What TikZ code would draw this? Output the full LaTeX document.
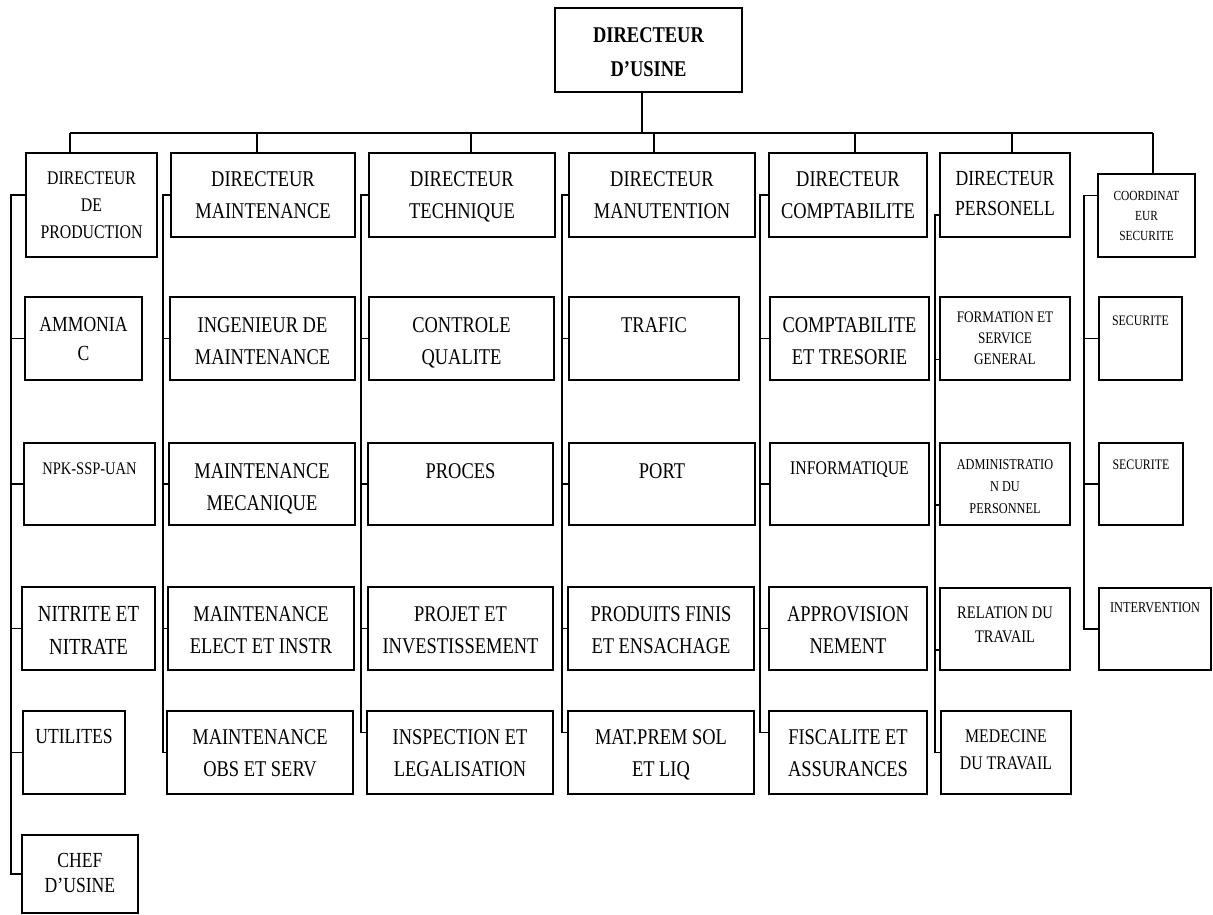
\documentclass[tikz,border=0pt]{standalone}
\usepackage{fontspec}
\setmainfont{Liberation Serif}[FakeStretch=0.82]
\newcommand{\orgbox}[7]{%
  \node[box, minimum width={(#4-#2)*1pt}, minimum height={(#5-#3)*1pt}] (#1) at ({(#2+#4)/2},{(#3+#5)/2}) {};
  \node[lbl, #6] (#1t) at ([yshift=-19pt]#1.north) {#7};
}
\begin{document}
\begin{tikzpicture}[x=1pt,y=-1pt,
  box/.style={draw, line width=1.6pt, rectangle, inner sep=0pt},
  lbl/.style={anchor=north, inner sep=0pt, align=center, font=\fontsize{22.5}{32}\selectfont},
  con/.style={line width=1.3pt},
  topf/.style={font=\bfseries\fontsize{22.5}{34}\selectfont},
  prodf/.style={font=\fontsize{19.3}{27}\selectfont},
  ammf/.style={font=\fontsize{21.5}{29}\selectfont},
  nitf/.style={font=\fontsize{23}{33}\selectfont},
  npkf/.style={font=\fontsize{17.7}{20}\selectfont},
  chff/.style={font=\fontsize{21.5}{25}\selectfont},
  infof/.style={font=\fontsize{19.3}{20}\selectfont},
  formf/.style={font=\fontsize{16.1}{21}\selectfont},
  admf/.style={font=\fontsize{15}{22}\selectfont},
  relf/.style={font=\fontsize{17.7}{24}\selectfont},
  medf/.style={font=\fontsize{19.3}{27}\selectfont},
  persf/.style={font=\fontsize{21.5}{30}\selectfont},
  coof/.style={font=\fontsize{13.9}{20}\selectfont},
  secf/.style={font=\fontsize{14.5}{20}\selectfont},
  intf/.style={font=\fontsize{15}{20}\selectfont}]
\path[fill=white, use as bounding box] (0,0) rectangle (1213,915);

% top
\orgbox{top}{555}{8}{742}{92}{topf, yshift=-1pt}{DIRECTEUR\\D’USINE}

% directors
\orgbox{prod}{26}{153}{157}{257}{prodf}{DIRECTEUR\\DE\\PRODUCTION}
\orgbox{maint}{171}{153}{355}{237}{}{DIRECTEUR\\MAINTENANCE}
\orgbox{tech}{369}{153}{555}{237}{}{DIRECTEUR\\TECHNIQUE}
\orgbox{manut}{569}{153}{755}{237}{}{DIRECTEUR\\MANUTENTION}
\orgbox{compt}{769}{153}{927}{237}{}{DIRECTEUR\\COMPTABILITE}
\orgbox{pers}{940}{153}{1070}{237}{persf}{DIRECTEUR\\PERSONELL}
\orgbox{coord}{1098}{174}{1195}{257}{coof, yshift=1pt}{COORDINAT\\EUR\\SECURITE}

% column 1
\orgbox{amm}{25}{297}{142}{380}{ammf, yshift=-2pt}{AMMONIA\\C}
\orgbox{npk}{24}{443}{155}{525}{npkf, yshift=-1pt}{NPK-SSP-UAN}
\orgbox{nit}{22}{587}{155}{670}{nitf, yshift=-1pt}{NITRITE ET\\NITRATE}
\orgbox{util}{23}{711}{125}{794}{chff}{UTILITES}
\orgbox{chef}{22}{835}{138}{913}{chff}{CHEF\\D’USINE}

% column 2
\orgbox{ing}{170}{297}{355}{380}{yshift=-2pt}{INGENIEUR DE\\MAINTENANCE}
\orgbox{mmeca}{169}{443}{355}{525}{yshift=-2pt}{MAINTENANCE\\MECANIQUE}
\orgbox{melec}{168}{587}{354}{670}{yshift=-1pt}{MAINTENANCE\\ELECT ET INSTR}
\orgbox{mobs}{167}{711}{353}{794}{}{MAINTENANCE\\OBS ET SERV}

% column 3
\orgbox{ctrl}{369}{297}{554}{380}{yshift=-2pt}{CONTROLE\\QUALITE}
\orgbox{proces}{368}{443}{553}{525}{yshift=-2pt}{PROCES}
\orgbox{projet}{368}{587}{553}{670}{yshift=-1pt}{PROJET ET\\INVESTISSEMENT}
\orgbox{insp}{367}{711}{553}{794}{}{INSPECTION ET\\LEGALISATION}

% column 4
\orgbox{trafic}{569}{297}{739}{380}{yshift=-2pt}{TRAFIC}
\orgbox{port}{569}{443}{755}{525}{yshift=-2pt}{PORT}
\orgbox{prodfin}{568}{587}{754}{670}{yshift=-1pt}{PRODUITS FINIS\\ET ENSACHAGE}
\orgbox{matp}{568}{711}{754}{794}{}{MAT.PREM SOL\\ET LIQ}

% column 5
\orgbox{ctres}{770}{297}{929}{380}{yshift=-2pt}{COMPTABILITE\\ET TRESORIE}
\orgbox{info}{770}{443}{929}{525}{infof}{INFORMATIQUE}
\orgbox{appro}{769}{587}{927}{670}{yshift=-1pt}{APPROVISION\\NEMENT}
\orgbox{fisc}{769}{711}{927}{794}{}{FISCALITE ET\\ASSURANCES}

% column 6
\orgbox{form}{940}{297}{1070}{380}{formf, yshift=4pt}{FORMATION ET\\SERVICE\\GENERAL}
\orgbox{admin}{940}{443}{1070}{525}{admf, yshift=2pt}{ADMINISTRATIO\\N DU\\PERSONNEL}
\orgbox{rel}{940}{588}{1070}{670}{relf}{RELATION DU\\TRAVAIL}
\orgbox{med}{941}{711}{1071}{794}{medf}{MEDECINE\\DU TRAVAIL}

% column 7
\orgbox{sec1}{1099}{297}{1182}{380}{secf}{SECURITE}
\orgbox{sec2}{1099}{443}{1183}{525}{secf, yshift=2pt}{SECURITE}
\orgbox{interv}{1099}{588}{1211}{670}{intf, yshift=4pt}{INTERVENTION}

% bus
\coordinate (bus0) at (642,133);
\draw[con] (top.south -| bus0) -- (bus0);
\coordinate (d1) at (70,133);
\coordinate (d2) at (257,133);
\coordinate (d3) at (471,133);
\coordinate (d4) at (654,133);
\coordinate (d5) at (855,133);
\coordinate (d6) at (1012,133);
\coordinate (d7) at (1153,133);
\draw[con] (d1) -- (d7);
\draw[con] (d1) -- (d1 |- prod.north);
\draw[con] (d2) -- (d2 |- maint.north);
\draw[con] (d3) -- (d3 |- tech.north);
\draw[con] (d4) -- (d4 |- manut.north);
\draw[con] (d5) -- (d5 |- compt.north);
\draw[con] (d6) -- (d6 |- pers.north);
\draw[con] (d7) -- (d7 |- coord.north);

% spines
\coordinate (sp1) at (11,0);
\coordinate (sp2) at (163,0);
\coordinate (sp3) at (361,0);
\coordinate (sp4) at (562,0);
\coordinate (sp5) at (760,0);
\coordinate (sp6) at (935,0);
\coordinate (sp7) at (1084,0);

% column 1
\coordinate (prodc) at ([yshift=10pt]prod.west);
\draw[con] (prodc) -| (sp1 |- chef.west) -- (chef.west);
\foreach \n in {amm,npk,nit,util} \draw[con] (sp1 |- \n.west) -- (\n.west);

% column 2
\draw[con] (maint.west) -| (sp2 |- mobs.west) -- (mobs.west);
\foreach \n in {ing,mmeca,melec} \draw[con] (sp2 |- \n.west) -- (\n.west);

% column 3
\coordinate (inspc) at ([yshift=20pt]insp.west);
\draw[con] (tech.west) -| (sp3 |- inspc) -- (inspc);
\foreach \n in {ctrl,proces,projet} \draw[con] (sp3 |- \n.west) -- (\n.west);

% column 4
\coordinate (matpc) at ([yshift=20pt]matp.west);
\draw[con] (manut.west) -| (sp4 |- matpc) -- (matpc);
\foreach \n in {trafic,port,prodfin} \draw[con] (sp4 |- \n.west) -- (\n.west);

% column 5
\coordinate (fiscc) at ([yshift=20pt]fisc.west);
\draw[con] (compt.west) -| (sp5 |- fiscc) -- (fiscc);
\foreach \n in {ctres,info,appro} \draw[con] (sp5 |- \n.west) -- (\n.west);

% column 6
\coordinate (persc) at ([yshift=-20pt]pers.west);
\coordinate (formc) at ([yshift=-21pt]form.west);
\coordinate (adminc) at ([yshift=-21pt]admin.west);
\coordinate (relc) at ([yshift=-21pt]rel.west);
\draw[con] (persc) -| (sp6 |- med.west) -- (med.west);
\foreach \n in {formc,adminc,relc} \draw[con] (sp6 |- \n) -- (\n);

% column 7
\coordinate (coordc) at ([yshift=20pt]coord.west);
\draw[con] (coordc) -| (sp7 |- interv.west) -- (interv.west);
\foreach \n in {sec1,sec2} \draw[con] (sp7 |- \n.west) -- (\n.west);
\end{tikzpicture}
\end{document}
